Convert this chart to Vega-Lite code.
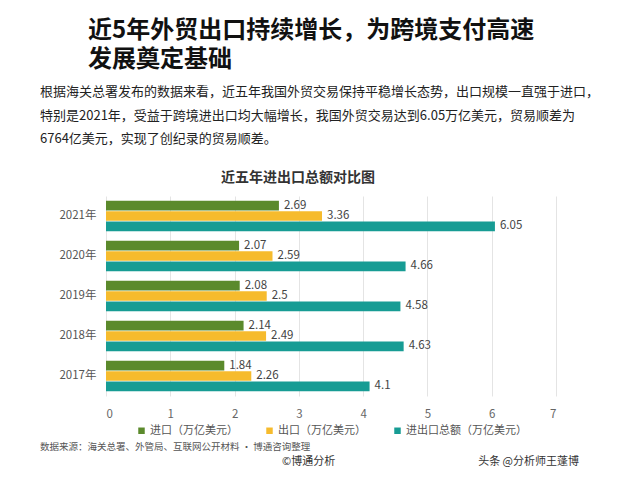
{
  "$schema": "https://vega.github.io/schema/vega-lite/v6.json",
  "background": "white",
  "padding": {"left": 40, "top": 18, "right": 10, "bottom": 3},
  "config": {
    "font": "Noto Sans CJK SC",
    "view": {"stroke": null},
    "concat": {"spacing": 0},
    "legend": {"layout": {"bottom": {"anchor": "middle"}}}
  },
  "title": {
    "text": "数据来源：海关总署、外管局、互联网公开材料 · 博通咨询整理",
    "subtitle": "\u200b　　　　　　　　　　　　　　　　　　　　　　©博通分析　　　　　　　　　　　　　头条 @分析师王蓬博",
    "orient": "bottom",
    "anchor": "start",
    "frame": "bounds",
    "fontSize": 9.5,
    "fontWeight": "normal",
    "color": "#555555",
    "subtitleFontSize": 11,
    "subtitleColor": "#333333",
    "subtitlePadding": 4,
    "offset": 6
  },
  "vconcat": [
    {
      "title": {
        "text": ["近5年外贸出口持续增长，为跨境支付高速", "发展奠定基础"],
        "anchor": "start",
        "frame": "bounds",
        "fontSize": 24,
        "fontWeight": "bold",
        "color": "#111111",
        "lineHeight": 29,
        "dx": 48,
        "offset": 14.5
      },
      "vconcat": [
        {
          "title": {
            "text": [
              "根据海关总署发布的数据来看，近五年我国外贸交易保持平稳增长态势，出口规模一直强于进口，",
              "特别是2021年，受益于跨境进出口均大幅增长，我国外贸交易达到6.05万亿美元，贸易顺差为",
              "6764亿美元，实现了创纪录的贸易顺差。"
            ],
            "anchor": "start",
            "frame": "bounds",
            "fontSize": 13,
            "fontWeight": "normal",
            "color": "#222222",
            "lineHeight": 23.5,
            "offset": 25
          },
          "vconcat": [
            {
              "title": {
                "text": "近五年进出口总额对比图",
                "anchor": "middle",
                "frame": "bounds",
                "fontSize": 14,
                "fontWeight": "bold",
                "color": "#333333",
                "offset": 11
              },
              "width": 450,
              "height": 200,
              "data": {
                "values": [
                  {"年份": "2021年", "类别": "进口（万亿美元）", "值": 2.69},
                  {"年份": "2021年", "类别": "出口（万亿美元）", "值": 3.36},
                  {"年份": "2021年", "类别": "进出口总额（万亿美元）", "值": 6.05},
                  {"年份": "2020年", "类别": "进口（万亿美元）", "值": 2.07},
                  {"年份": "2020年", "类别": "出口（万亿美元）", "值": 2.59},
                  {"年份": "2020年", "类别": "进出口总额（万亿美元）", "值": 4.66},
                  {"年份": "2019年", "类别": "进口（万亿美元）", "值": 2.08},
                  {"年份": "2019年", "类别": "出口（万亿美元）", "值": 2.5},
                  {"年份": "2019年", "类别": "进出口总额（万亿美元）", "值": 4.58},
                  {"年份": "2018年", "类别": "进口（万亿美元）", "值": 2.14},
                  {"年份": "2018年", "类别": "出口（万亿美元）", "值": 2.49},
                  {"年份": "2018年", "类别": "进出口总额（万亿美元）", "值": 4.63},
                  {"年份": "2017年", "类别": "进口（万亿美元）", "值": 1.84},
                  {"年份": "2017年", "类别": "出口（万亿美元）", "值": 2.26},
                  {"年份": "2017年", "类别": "进出口总额（万亿美元）", "值": 4.1}
                ]
              },
              "encoding": {
                "y": {
                  "field": "年份",
                  "type": "nominal",
                  "sort": ["2021年", "2020年", "2019年", "2018年", "2017年"],
                  "scale": {"paddingInner": 0.24, "paddingOuter": 0.12},
                  "axis": {
                    "title": null,
                    "domain": false,
                    "ticks": false,
                    "labelColor": "#555555",
                    "labelFontSize": 11.5,
                    "labelPadding": 10,
                    "minExtent": 66
                  }
                },
                "yOffset": {
                  "field": "类别",
                  "sort": ["进口（万亿美元）", "出口（万亿美元）", "进出口总额（万亿美元）"],
                  "scale": {"paddingInner": 0.06}
                },
                "x": {
                  "field": "值",
                  "type": "quantitative",
                  "scale": {"domain": [0, 7], "nice": false},
                  "axis": {
                    "title": null,
                    "values": [0, 1, 2, 3, 4, 5, 6, 7],
                    "grid": true,
                    "gridColor": "#e4e4e4",
                    "domain": false,
                    "ticks": false,
                    "labelColor": "#666666",
                    "labelFontSize": 11.5,
                    "labelPadding": 12
                  }
                }
              },
              "layer": [
                {
                  "mark": {"type": "bar"},
                  "encoding": {
                    "color": {
                      "field": "类别",
                      "type": "nominal",
                      "sort": ["进口（万亿美元）", "出口（万亿美元）", "进出口总额（万亿美元）"],
                      "scale": {
                        "domain": ["进口（万亿美元）", "出口（万亿美元）", "进出口总额（万亿美元）"],
                        "range": ["#5b8a2c", "#f6bb2d", "#179c94"]
                      },
                      "legend": {
                        "title": null,
                        "orient": "bottom",
                        "direction": "horizontal",
                        "symbolType": "square",
                        "symbolSize": 42,
                        "symbolStrokeWidth": 0,
                        "labelFontSize": 11,
                        "labelColor": "#555555",
                        "columnPadding": 26,
                        "labelOffset": 3,
                        "offset": 5
                      }
                    }
                  }
                },
                {
                  "mark": {"type": "text", "align": "left", "baseline": "middle", "dx": 5, "fontSize": 11.5, "color": "#444444"},
                  "encoding": {
                    "text": {"field": "值", "type": "quantitative"}
                  }
                }
              ]
            }
          ]
        }
      ]
    }
  ]
}
